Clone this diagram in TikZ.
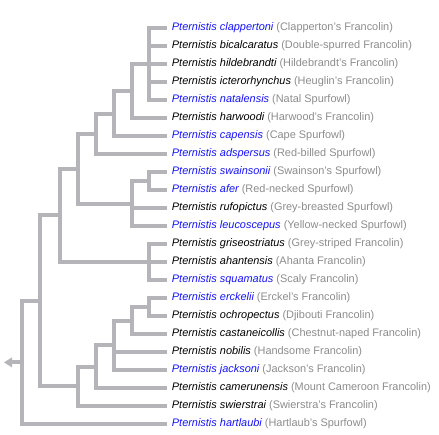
\documentclass[tikz,border=0pt]{standalone}
\usepackage{fontspec}
\setmainfont{Liberation Sans}
\usepackage{tikz}

\definecolor{branchgray}{RGB}{180,180,185}
\definecolor{sciblue}{RGB}{20,20,255}
\definecolor{namegray}{RGB}{140,140,140}
\newcommand{\spblue}[1]{\textcolor{sciblue}{\itshape #1}}
\newcommand{\spblack}[1]{{\itshape #1}}
\newcommand{\common}[1]{\textcolor{namegray}{#1}}

\begin{document}
\begin{tikzpicture}[x=0.75pt,y=0.75pt,yscale=-1,xscale=1,
  branch/.style={draw=branchgray,line width=3pt},
  tip/.style={anchor=west,inner sep=3.5pt,font=\fontsize{8.2}{10}\selectfont}]
\useasboundingbox (0,0) rectangle (439,435);

% Species
\node (clappertoni) [tip] at (167,28) {\spblue{Pternistis clappertoni} \common{(Clapperton's Francolin)}};
\node (bicalcaratus) [tip] at (167,46) {\spblack{Pternistis bicalcaratus} \common{(Double-spurred Francolin)}};
\node (hildebrandti) [tip] at (167,64) {\spblack{Pternistis hildebrandti} \common{(Hildebrandt's Francolin)}};
\node (icterorhynchus) [tip] at (167,82) {\spblack{Pternistis icterorhynchus} \common{(Heuglin's Francolin)}};
\node (natalensis) [tip] at (167,100) {\spblue{Pternistis natalensis} \common{(Natal Spurfowl)}};
\node (harwoodi) [tip] at (167,118) {\spblack{Pternistis harwoodi} \common{(Harwood's Francolin)}};
\node (capensis) [tip] at (167,136) {\spblue{Pternistis capensis} \common{(Cape Spurfowl)}};
\node (adspersus) [tip] at (167,154) {\spblue{Pternistis adspersus} \common{(Red-billed Spurfowl)}};
\node (swainsonii) [tip] at (167,172) {\spblue{Pternistis swainsonii} \common{(Swainson's Spurfowl)}};
\node (afer) [tip] at (167,190) {\spblue{Pternistis afer} \common{(Red-necked Spurfowl)}};
\node (rufopictus) [tip] at (167,208) {\spblack{Pternistis rufopictus} \common{(Grey-breasted Spurfowl)}};
\node (leucoscepus) [tip] at (167,226) {\spblue{Pternistis leucoscepus} \common{(Yellow-necked Spurfowl)}};
\node (griseostriatus) [tip] at (167,244) {\spblack{Pternistis griseostriatus} \common{(Grey-striped Francolin)}};
\node (ahantensis) [tip] at (167,262) {\spblack{Pternistis ahantensis} \common{(Ahanta Francolin)}};
\node (squamatus) [tip] at (167,280) {\spblue{Pternistis squamatus} \common{(Scaly Francolin)}};
\node (erckelii) [tip] at (167,298) {\spblue{Pternistis erckelii} \common{(Erckel's Francolin)}};
\node (ochropectus) [tip] at (167,316) {\spblack{Pternistis ochropectus} \common{(Djibouti Francolin)}};
\node (castaneicollis) [tip] at (167,334) {\spblack{Pternistis castaneicollis} \common{(Chestnut-naped Francolin)}};
\node (nobilis) [tip] at (167,352) {\spblack{Pternistis nobilis} \common{(Handsome Francolin)}};
\node (jacksoni) [tip] at (167,370) {\spblue{Pternistis jacksoni} \common{(Jackson's Francolin)}};
\node (camerunensis) [tip] at (167,388) {\spblack{Pternistis camerunensis} \common{(Mount Cameroon Francolin)}};
\node (swierstrai) [tip] at (167,406) {\spblack{Pternistis swierstrai} \common{(Swierstra's Francolin)}};
\node (hartlaubi) [tip] at (167,424) {\spblue{Pternistis hartlaubi} \common{(Hartlaub's Spurfowl)}};

% Inner nodes
\coordinate (cladeA) at (149,64);
\coordinate (cladeB) at (131.7,91);
\coordinate (cladeC) at (113.7,113.5);
\coordinate (cladeD) at (95.7,133.7);
\coordinate (cladeG) at (149,181);
\coordinate (cladeF) at (131.7,203.5);
\coordinate (cladeE) at (77.7,168.6);
\coordinate (cladeI) at (149,262);
\coordinate (cladeH) at (59.7,215.3);
\coordinate (cladeL) at (149,307);
\coordinate (cladeM) at (131.7,320.5);
\coordinate (cladeN) at (113.7,345.2);
\coordinate (cladeO) at (95.7,366.6);
\coordinate (cladeP) at (77.7,386.3);
\coordinate (cladeJ) at (40,300.8);
\coordinate (root) at (22.3,362.4);
\coordinate (stub) at (12,362.4);

% Branches
\draw[branch] (cladeA) |- (clappertoni.west);
\draw[branch] (cladeA) |- (bicalcaratus.west);
\draw[branch] (cladeA) |- (hildebrandti.west);
\draw[branch] (cladeA) |- (icterorhynchus.west);
\draw[branch] (cladeA) |- (natalensis.west);
\draw[branch] (cladeB) |- (cladeA);
\draw[branch] (cladeB) |- (harwoodi.west);
\draw[branch] (cladeC) |- (cladeB);
\draw[branch] (cladeC) |- (capensis.west);
\draw[branch] (cladeD) |- (cladeC);
\draw[branch] (cladeD) |- (adspersus.west);
\draw[branch] (cladeG) |- (swainsonii.west);
\draw[branch] (cladeG) |- (afer.west);
\draw[branch] (cladeF) |- (cladeG);
\draw[branch] (cladeF) |- (rufopictus.west);
\draw[branch] (cladeF) |- (leucoscepus.west);
\draw[branch] (cladeE) |- (cladeD);
\draw[branch] (cladeE) |- (cladeF);
\draw[branch] (cladeI) |- (griseostriatus.west);
\draw[branch] (cladeI) |- (ahantensis.west);
\draw[branch] (cladeI) |- (squamatus.west);
\draw[branch] (cladeH) |- (cladeE);
\draw[branch] (cladeH) |- (cladeI);
\draw[branch] (cladeL) |- (erckelii.west);
\draw[branch] (cladeL) |- (ochropectus.west);
\draw[branch] (cladeM) |- (cladeL);
\draw[branch] (cladeM) |- (castaneicollis.west);
\draw[branch] (cladeN) |- (cladeM);
\draw[branch] (cladeN) |- (nobilis.west);
\draw[branch] (cladeN) |- (jacksoni.west);
\draw[branch] (cladeO) |- (cladeN);
\draw[branch] (cladeO) |- (camerunensis.west);
\draw[branch] (cladeP) |- (cladeO);
\draw[branch] (cladeP) |- (swierstrai.west);
\draw[branch] (cladeJ) |- (cladeH);
\draw[branch] (cladeJ) |- (cladeP);
\draw[branch] (root) |- (cladeJ);
\draw[branch] (root) |- (hartlaubi.west);
\draw[branch] (root) -- (stub);

% Root marker
\fill[branchgray] (4,362.4) -- (12,357.4) -- (12,367.4) -- cycle;

\end{tikzpicture}
\end{document}
